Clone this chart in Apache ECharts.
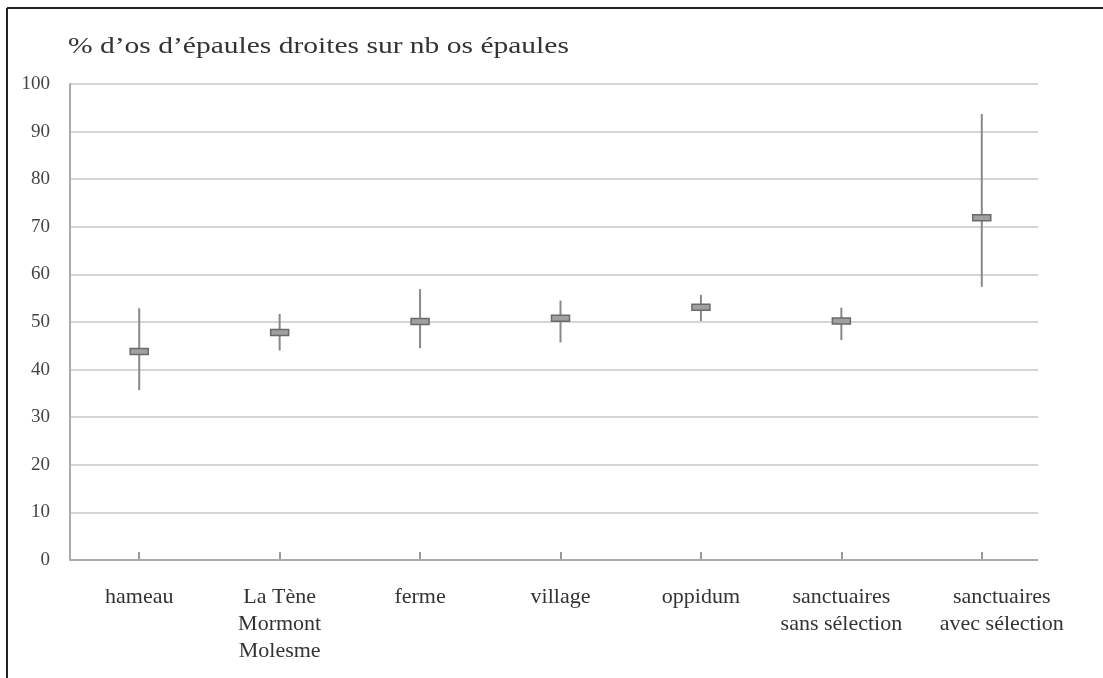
<!DOCTYPE html>
<html>
<head>
<meta charset="utf-8">
<script src="https://cdn.jsdelivr.net/npm/echarts@6/dist/echarts.min.js"></script>
<style>
html,body{margin:0;padding:0;background:#fff;}
#c{width:1103px;height:678px;}
</style>
</head>
<body>
<div id="c"></div>
<script>
var categories = ['hameau', 'La Tène\nMormont\nMolesme', 'ferme', 'village', 'oppidum', 'sanctuaires\nsans sélection', 'sanctuaires\navec sélection'];
var lowValues = [35.7, 44.0, 44.5, 45.7, 50.2, 46.2, 57.4];
var highValues = [52.9, 51.7, 56.9, 54.5, 55.7, 53.0, 93.7];
var midValues = [43.8, 47.8, 50.1, 50.8, 53.1, 50.2, 71.9];
var yTicks = [0, 10, 20, 30, 40, 50, 60, 70, 80, 90, 100];
var titleText = '% d’os d’épaules droites sur nb os épaules';

var seriesData = categories.map(function (c, i) { return [i, lowValues[i], highValues[i], midValues[i]]; });
var serif = '"Liberation Serif", "DejaVu Serif", serif';

var chart = echarts.init(document.getElementById('c'));
chart.setOption({
  animation: false,
  backgroundColor: '#fff',
  graphic: [
    { type: 'line', shape: { x1: 7, y1: 8, x2: 1103, y2: 8 }, style: { stroke: '#222', lineWidth: 2 } },
    { type: 'line', shape: { x1: 7, y1: 8, x2: 7, y2: 678 }, style: { stroke: '#222', lineWidth: 2 } },
    {
      type: 'text', x: 68, y: 47, scaleX: 1.23, scaleY: 1,
      style: { text: titleText, font: '24px ' + serif, fill: '#333', textVerticalAlign: 'middle', textAlign: 'left' }
    }
  ],
  grid: [
    { left: 70, top: 84, width: 968, height: 476 },
    { left: 69, top: 84, width: 983, height: 476 }
  ],
  xAxis: [
    { type: 'value', gridIndex: 0, min: 0, max: 1, show: false },
    {
      type: 'category', gridIndex: 1,
      data: categories.map(function (c, i) {
        return i === 6 ? { value: c, textStyle: { padding: [0, 0, 0, 40] } } : c;
      }),
      boundaryGap: true,
      axisLine: { show: false },
      axisTick: { show: true, alignWithLabel: true, inside: true, length: 8, lineStyle: { color: '#999', width: 2 } },
      axisLabel: { fontFamily: serif, fontSize: 22, color: '#333', lineHeight: 27, margin: 24, interval: 0 }
    }
  ],
  yAxis: [
    {
      type: 'value', gridIndex: 0, min: 0, max: 100, interval: 10,
      axisLine: { show: true, lineStyle: { color: '#aaa', width: 2 } },
      axisTick: { show: false },
      splitLine: { show: true, lineStyle: { color: '#c8c8c8', width: 1.5 } },
      axisLabel: {
        fontFamily: serif, fontSize: 19, color: '#444', margin: 20,
        formatter: function (v) { return yTicks.indexOf(v) >= 0 ? String(v) : ''; }
      }
    },
    { type: 'value', gridIndex: 1, min: 0, max: 100, show: false }
  ],
  series: [
    {
      type: 'line', xAxisIndex: 0, yAxisIndex: 0, data: [[0, 0], [1, 0]],
      symbol: 'none', lineStyle: { color: '#aaa', width: 2 }, silent: true
    },
    {
      type: 'custom', xAxisIndex: 1, yAxisIndex: 1,
      data: seriesData,
      encode: { x: 0, y: [1, 2, 3] },
      renderItem: function (params, api) {
        var x = api.value(0);
        var lo = api.coord([x, api.value(1)]);
        var hi = api.coord([x, api.value(2)]);
        var mid = api.coord([x, api.value(3)]);
        return {
          type: 'group',
          children: [
            { type: 'line', shape: { x1: lo[0], y1: lo[1], x2: hi[0], y2: hi[1] }, style: { stroke: '#888', lineWidth: 2 } },
            { type: 'rect', shape: { x: mid[0] - 9, y: mid[1] - 3, width: 18, height: 6 }, style: { fill: '#a0a0a0', stroke: '#6a6a6a', lineWidth: 1.5 } }
          ]
        };
      }
    }
  ]
});
</script>
</body>
</html>
